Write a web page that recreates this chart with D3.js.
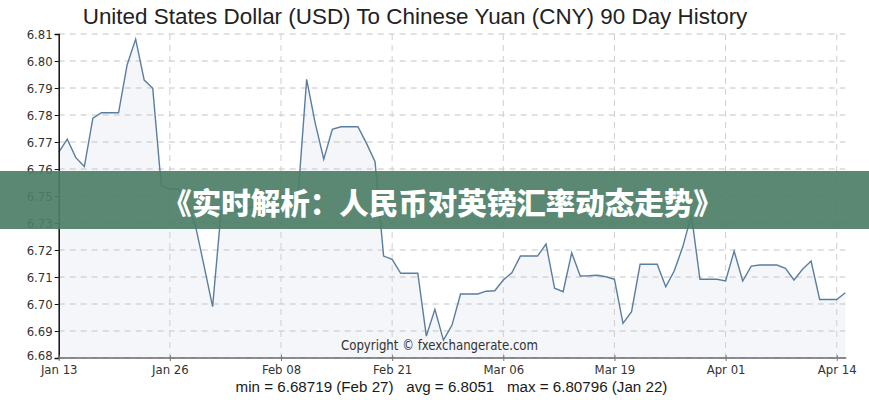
<!DOCTYPE html>
<html><head><meta charset="utf-8">
<script src="https://cdn.jsdelivr.net/npm/d3@7"></script>
<style>body{margin:0;background:#fff}svg{display:block}</style>
</head><body>
<svg id="c" width="869" height="400"></svg>
<script>
const dates = [
"2019-01-13","2019-01-14","2019-01-15","2019-01-16","2019-01-17","2019-01-18","2019-01-19","2019-01-20","2019-01-21","2019-01-22",
"2019-01-23","2019-01-24","2019-01-25","2019-01-26","2019-01-27","2019-01-28","2019-01-29","2019-01-30","2019-01-31",
"2019-02-01","2019-02-02","2019-02-03","2019-02-04","2019-02-05","2019-02-06","2019-02-07","2019-02-08","2019-02-09","2019-02-10",
"2019-02-11","2019-02-12","2019-02-13","2019-02-14","2019-02-15","2019-02-16","2019-02-17","2019-02-18","2019-02-19","2019-02-20",
"2019-02-21","2019-02-22","2019-02-23","2019-02-24","2019-02-25","2019-02-26","2019-02-27","2019-02-28",
"2019-03-01","2019-03-02","2019-03-03","2019-03-04","2019-03-05","2019-03-06","2019-03-07","2019-03-08","2019-03-09","2019-03-10",
"2019-03-11","2019-03-12","2019-03-13","2019-03-14","2019-03-15","2019-03-16","2019-03-17","2019-03-18","2019-03-19","2019-03-20",
"2019-03-21","2019-03-22","2019-03-23","2019-03-24","2019-03-25","2019-03-26","2019-03-27","2019-03-28","2019-03-29","2019-03-30","2019-03-31",
"2019-04-01","2019-04-02","2019-04-03","2019-04-04","2019-04-05","2019-04-06","2019-04-07","2019-04-08","2019-04-09","2019-04-10",
"2019-04-11","2019-04-12","2019-04-13","2019-04-14","2019-04-15"];
const rates = [
6.7625,6.7678,6.7604,6.7568,6.7762,6.7784,6.7784,6.7784,6.7976,6.80796,
6.7915,6.7882,6.7490,6.7478,6.7478,6.7420,6.7330,6.7170,6.7006,
6.7390,6.7390,6.7390,6.7400,6.7410,6.7420,6.7440,6.7454,6.7454,6.7454,
6.7918,6.7742,6.7598,6.7718,6.7728,6.7728,6.7728,6.7661,6.7588,6.7209,
6.7196,6.7140,6.7140,6.7140,6.6888,6.6995,6.68719,6.6932,
6.7057,6.7057,6.7057,6.7068,6.7070,6.7113,6.7142,6.7209,6.7209,6.7209,
6.7257,6.7080,6.7066,6.7222,6.7129,6.7130,6.7132,6.7126,6.7116,6.6939,
6.6986,6.7176,6.7176,6.7176,6.7086,6.7150,6.7247,6.7374,6.7116,6.7116,6.7116,
6.7109,6.7229,6.7109,6.7169,6.7173,6.7173,6.7173,6.7160,6.7113,6.7156,
6.7189,6.7035,6.7035,6.7035,6.7062];
const xTickDates = ["2019-01-13","2019-01-26","2019-02-08","2019-02-21","2019-03-06","2019-03-19","2019-04-01","2019-04-14"];
const xTickLabels = ["Jan 13","Jan 26","Feb 08","Feb 21","Mar 06","Mar 19","Apr 01","Apr 14"];
const yDomain = [6.68, 6.81];
const yTickLabels = ["6.68","6.69","6.70","6.71","6.72","6.73","6.75","6.76","6.77","6.78","6.79","6.80","6.81"];
const titleText = "United States Dollar (USD) To Chinese Yuan (CNY) 90 Day History";
const copyrightText = "Copyright \u00A9 fxexchangerate.com";
const statsText = "min = 6.68719 (Feb 27)   avg = 6.8051   max = 6.80796 (Jan 22)";
const bannerText = "《实时解析：人民币对英镑汇率动态走势》";

const parse = d3.timeParse("%Y-%m-%d");
const data = dates.map((d,i)=>({date:parse(d), v:rates[i]}));
const svg = d3.select("#c");
const L=58.7, R=845.3, T=34, B=358;
const x = d3.scaleTime().domain([parse(dates[0]), parse(dates[dates.length-1])]).range([L,R]);
const y = d3.scaleLinear().domain(yDomain).range([B,T]);
const nY = yTickLabels.length;
const yTicks = d3.range(nY).map(i => yDomain[0] + i*(yDomain[1]-yDomain[0])/(nY-1));
const condensed = "'Liberation Sans Narrow','DejaVu Sans Condensed','Arial Narrow',sans-serif";

// area under the line
svg.append("path").datum(data)
  .attr("d", d3.area().x(d=>x(d.date)).y0(B).y1(d=>y(d.v)))
  .attr("fill","#f4f6f9");

// grid
svg.append("g").selectAll("line").data(yTicks).join("line")
  .attr("x1",L).attr("x2",R).attr("y1",d=>y(d)).attr("y2",d=>y(d))
  .attr("stroke","#c4c4c4").attr("stroke-width",1).attr("stroke-dasharray","6,5");
svg.append("g").selectAll("line").data(xTickDates.slice(1)).join("line")
  .attr("x1",d=>x(parse(d))).attr("x2",d=>x(parse(d))).attr("y1",T).attr("y2",B)
  .attr("stroke","#cfcfcf").attr("stroke-width",1).attr("stroke-dasharray","6,5");

// line
svg.append("path").datum(data)
  .attr("d", d3.line().x(d=>x(d.date)).y(d=>y(d.v)))
  .attr("fill","none").attr("stroke","#5a7ea0").attr("stroke-width",1.4);

// axes
const yAxis = d3.axisLeft(y).tickValues(yTicks).tickSize(4).tickPadding(2)
  .tickFormat((d,i)=>yTickLabels[i]);
const gy = svg.append("g").attr("transform",`translate(${L},0)`).call(yAxis);
gy.select(".domain").attr("stroke","#111").attr("stroke-width",1.5);
gy.selectAll(".tick line").attr("stroke","#111");
gy.selectAll("text").attr("font-family",condensed).attr("font-size",13).attr("fill","#333");
gy.selectAll(".tick text").filter((d,i)=>i===0).attr("dy","0.1em");

const xAxis = d3.axisBottom(x).tickValues(xTickDates.map(parse)).tickSize(3).tickPadding(4)
  .tickFormat((d,i)=>xTickLabels[i]);
const gx = svg.append("g").attr("transform",`translate(0,${B})`).call(xAxis);
gx.select(".domain").attr("stroke","#6a6a6a").attr("stroke-width",1.5).attr("d",`M${L},0H${R+1}`);
gx.selectAll(".tick line").attr("stroke","#777").attr("y1",-3);
gx.selectAll("text").attr("font-family",condensed).attr("font-size",13).attr("fill","#333");

// title
const title = svg.append("text").attr("x",415).attr("y",24).attr("text-anchor","middle")
  .attr("font-family","'Liberation Sans',Arial,sans-serif").attr("font-size",19).attr("fill","#222").text(titleText);
const tw = title.node().getComputedTextLength();
title.attr("font-size", 19*665/tw);

// copyright
svg.append("text").attr("x",341).attr("y",350).attr("font-family",condensed).attr("font-size",13.5)
  .attr("fill","#333").attr("textLength",197).attr("lengthAdjust","spacingAndGlyphs").text(copyrightText);

// stats
const stats = svg.append("text").attr("x",451.5).attr("y",392).attr("text-anchor","middle").style("white-space","pre")
  .attr("font-family","'Liberation Sans',Arial,sans-serif").attr("font-size",15).attr("fill","#1a1a1a").text(statsText);
const sw = stats.node().getComputedTextLength();
stats.attr("font-size", 15*432/sw);

// banner
svg.append("rect").attr("x",0).attr("y",171).attr("width",869).attr("height",58)
  .attr("fill","#4c7e66").attr("fill-opacity",0.92);
svg.append("text").attr("x",442.5).attr("y",201).attr("text-anchor","middle").attr("dominant-baseline","central")
  .attr("font-family","'Noto Sans CJK SC',sans-serif").attr("font-weight",900).attr("font-size",29.5)
  .attr("fill","#fff").text(bannerText);
</script>
</body></html>
